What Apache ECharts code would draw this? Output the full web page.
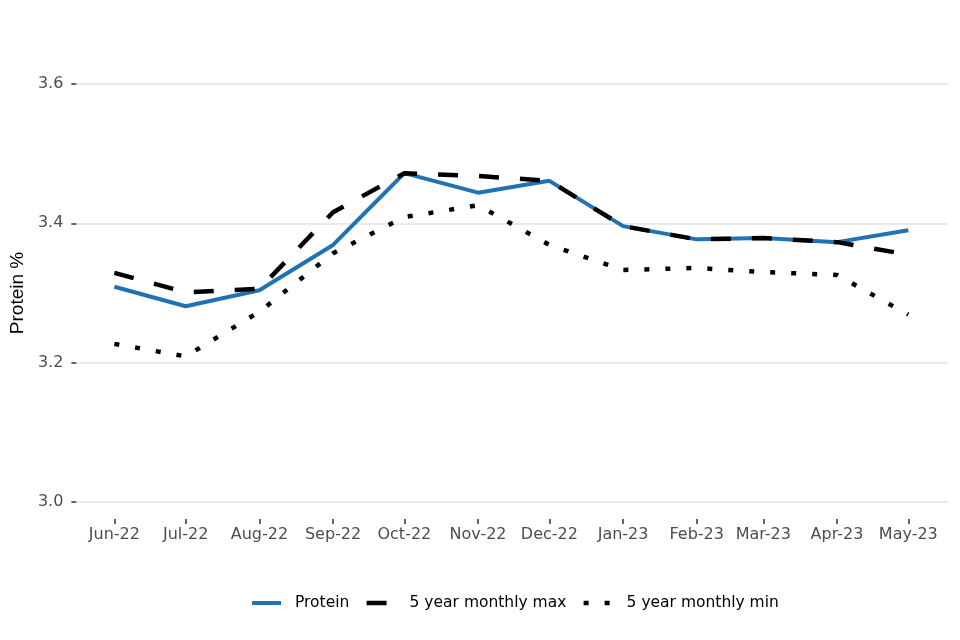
<!DOCTYPE html>
<html>
<head>
<meta charset="utf-8">
<script src="https://cdn.jsdelivr.net/npm/echarts@6/dist/echarts.min.js"></script>
<style>
html,body{margin:0;padding:0;background:#fff;}
#chart{width:960px;height:640px;}
</style>
</head>
<body>
<div id="chart"></div>
<script>
// Data
var months = ['2022-06','2022-07','2022-08','2022-09','2022-10','2022-11','2022-12','2023-01','2023-02','2023-03','2023-04','2023-05'];
var protein = [3.309, 3.281, 3.304, 3.369, 3.472, 3.444, 3.461, 3.396, 3.377, 3.379, 3.373, 3.390];
var max5 =    [3.329, 3.301, 3.306, 3.416, 3.472, 3.468, 3.461, 3.396, 3.377, 3.379, 3.373, 3.355];
var min5 =    [3.227, 3.209, 3.273, 3.357, 3.409, 3.426, 3.369, 3.333, 3.336, 3.330, 3.326, 3.269];
var yTicks = [3.0, 3.2, 3.4, 3.6];
var monthNames = ['Jan','Feb','Mar','Apr','May','Jun','Jul','Aug','Sep','Oct','Nov','Dec'];

var DAY = 86400000;
// x positions as days since the first month (real calendar spacing)
function toTime(s){ var p = s.split('-'); return Date.UTC(+p[0], +p[1]-1, 1); }
var t0 = toTime(months[0]);
var xs = months.map(function(s){ return (toTime(s) - t0) / DAY; });
var xLabels = months.map(function(s){ var p = s.split('-'); return monthNames[+p[1]-1] + '-' + p[0].slice(2); });
function pairs(vals){ return vals.map(function(v,i){ return [xs[i], v]; }); }

var FONT = 'DejaVu Sans';
var chart = echarts.init(document.getElementById('chart'));
chart.setOption({
  backgroundColor: '#fff',
  animation: false,
  grid: { left: 76, right: 12, top: 84, bottom: 138, containLabel: false },
  xAxis: {
    type: 'value',
    min: xs[0] - 16,
    max: xs[xs.length-1] + 16.7,
    offset: 17,
    axisLine: { show: false, onZero: false },
    splitLine: { show: false },
    axisTick: { show: true, customValues: xs, length: 5, lineStyle: { color: '#333', width: 1.5 } },
    axisLabel: {
      customValues: xs,
      margin: 8,
      fontFamily: FONT, fontSize: 16, color: '#4d4d4d',
      hideOverlap: false,
      showMinLabel: true, showMaxLabel: true,
      formatter: function (v) {
        var i = xs.indexOf(v);
        return i >= 0 ? xLabels[i] : '';
      }
    }
  },
  yAxis: {
    type: 'value',
    min: yTicks[0], max: yTicks[yTicks.length-1], interval: 0.2,
    name: 'Protein %',
    nameLocation: 'middle',
    nameGap: 48,
    nameTextStyle: { fontFamily: 'Liberation Sans', fontSize: 19, color: '#000' },
    axisLine: { show: false, onZero: false },
    axisTick: { show: true, length: 5, lineStyle: { color: '#333', width: 1.5 } },
    axisLabel: { margin: 13, fontFamily: FONT, fontSize: 16, color: '#4d4d4d',
      formatter: function (v) { return v.toFixed(1); } },
    splitLine: { show: true, lineStyle: { color: '#e5e5e5', width: 1.6 } }
  },
  legend: {
    left: 245, top: 590,
    itemWidth: 29, itemHeight: 14, itemGap: 15,
    itemStyle: { opacity: 0 },
    textStyle: { fontFamily: FONT, fontSize: 15.5, color: '#000', padding: [0,0,0,9] },
    data: [
      { name: 'Protein', lineStyle: { width: 4 } },
      { name: '5 year monthly max', lineStyle: { width: 4.5 } },
      { name: '5 year monthly min', lineStyle: { width: 4.5 } }
    ]
  },
  series: [
    { name: 'Protein', type: 'line', data: pairs(protein), symbol: 'none', showSymbol: false,
      lineStyle: { color: '#2171b5', width: 4 }, itemStyle: { color: '#2171b5' }, z: 2 },
    { name: '5 year monthly max', type: 'line', data: pairs(max5), symbol: 'none', showSymbol: false,
      lineStyle: { color: '#000', width: 4.5, type: [20, 21], cap: 'butt' }, itemStyle: { color: '#000' }, z: 3 },
    { name: '5 year monthly min', type: 'line', data: pairs(min5), symbol: 'none', showSymbol: false,
      lineStyle: { color: '#000', width: 4.5, type: [5, 16], cap: 'butt' }, itemStyle: { color: '#000' }, z: 3 }
  ]
});
</script>
</body>
</html>
